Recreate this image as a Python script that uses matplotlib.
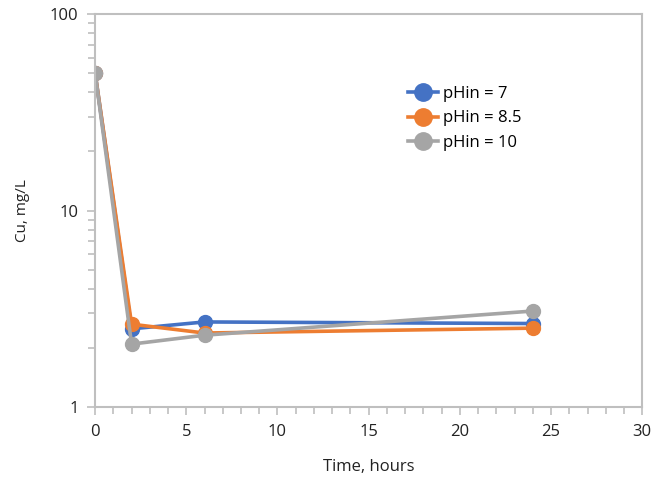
import matplotlib.pyplot as plt
from matplotlib.ticker import FixedLocator, LogLocator, NullFormatter, MultipleLocator

plt.rcParams['font.family'] = ['Open Sans', 'DejaVu Sans']

# 数据
time_h = [0, 2, 6, 24]
cu_ph7 = [50, 2.5, 2.71, 2.66]
cu_ph85 = [50, 2.64, 2.38, 2.52]
cu_ph10 = [50, 2.09, 2.32, 3.08]
labels = ['pHin = 7', 'pHin = 8.5', 'pHin = 10']
colors = ['#4472c4', '#ed7d31', '#a5a5a5']

fig = plt.figure(figsize=(6.56, 4.88), dpi=100)
ax = fig.add_axes([0.145, 0.166, 0.834, 0.805])

for ys, lab, c in zip([cu_ph7, cu_ph85, cu_ph10], labels, colors):
    ax.plot(time_h, ys, color=c, lw=2.6, marker='o', ms=10, label=lab)

ax.set_yscale('log')
ax.set_ylim(1, 100)
ax.set_xlim(0, 30)
ax.xaxis.set_major_locator(MultipleLocator(5))
ax.xaxis.set_minor_locator(MultipleLocator(1))
ax.yaxis.set_major_locator(FixedLocator([1, 10, 100]))
ax.yaxis.set_major_formatter(plt.FuncFormatter(lambda v, p: f'{v:g}'))
ax.yaxis.set_minor_locator(LogLocator(base=10, subs=range(2, 10)))
ax.yaxis.set_minor_formatter(NullFormatter())

for s in ax.spines.values():
    s.set_color('#bfbfbf')
    s.set_linewidth(1.5)
ax.tick_params(which='both', color='#bfbfbf', width=1.2, labelsize=12, labelcolor='#222222')
ax.tick_params(which='major', length=6, pad=6)
ax.tick_params(which='minor', length=5)

ax.set_xlabel('Time, hours', fontsize=12, color='#222222', labelpad=14)
ax.set_ylabel('Cu, mg/L', fontsize=11, color='#222222', labelpad=14)

ax.legend(loc='upper left', bbox_to_anchor=(0.545, 0.855), frameon=False, fontsize=12,
          handlelength=1.8, handletextpad=0.3, labelspacing=0.5, markerscale=1.25)

plt.savefig('out.png')
